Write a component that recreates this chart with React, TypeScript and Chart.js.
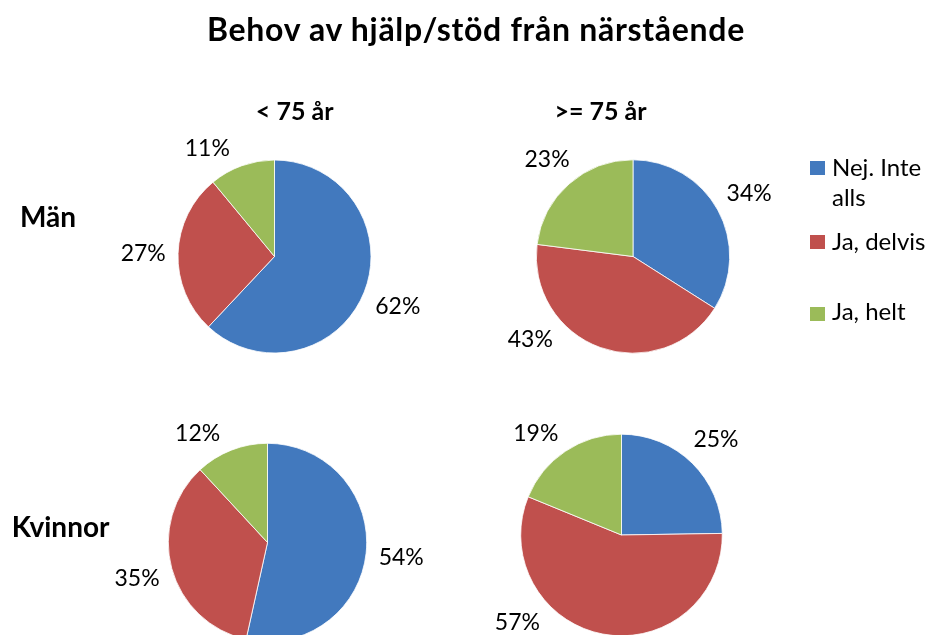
import React, { useEffect, useRef } from "react";
import { Chart, registerables } from "chart.js";
Chart.register(...registerables);

const chartTitle = "Behov av hjälp/stöd från närstående";
const ageGroups = ["< 75 år", ">= 75 år"];
const sexGroups = ["Män", "Kvinnor"];
const answers = ["Nej. Inte alls", "Ja, delvis", "Ja, helt"];
const manUnder75 = [62, 27, 11];
const man75plus = [34, 43, 23];
const kvinnaUnder75 = [54, 35, 12];
const kvinna75plus = [25, 57, 19];

const COLORS = ["#4279BE", "#C0504D", "#9BBB59"];
const W = 929;
const H = 635;
const CH = 700;
const FONT = "Lato, 'Open Sans', sans-serif";
const LABEL_SIZE = 23;

const PIES = [
  { data: manUnder75, cx: 274.5, cy: 256.5, r: 96.5, yMin: 148, yMax: 339 },
  { data: man75plus, cx: 633, cy: 256.5, r: 96.7, yMin: 150, yMax: 339 },
  { data: kvinnaUnder75, cx: 267.5, cy: 542.5, r: 99.2, yMin: 432, yMax: 622 },
  { data: kvinna75plus, cx: 621.5, cy: 535, r: 100.8, yMin: 432, yMax: 622 },
];

function labelPlugin(yMin: number, yMax: number) {
  return {
    id: "outLabels",
    afterDatasetsDraw(chart: any) {
      const ctx = chart.ctx as CanvasRenderingContext2D;
      const meta = chart.getDatasetMeta(0);
      const ds = chart.data.datasets[0].data as number[];
      ctx.save();
      ctx.font = `${LABEL_SIZE}px ${FONT}`;
      ctx.fillStyle = "#000";
      ctx.textAlign = "center";
      ctx.textBaseline = "alphabetic";
      const gap = 12;
      const hh = 8.5;
      meta.data.forEach((arc: any, i: number) => {
        const { x, y, startAngle, endAngle, outerRadius } = arc.getProps(
          ["x", "y", "startAngle", "endAngle", "outerRadius"],
          true
        );
        const text = ds[i] + "%";
        const hw = ctx.measureText(text).width / 2;
        let th = ((((startAngle + endAngle) / 2) * 180) / Math.PI + 90 + 720) % 360;
        const pos = (t: number) => {
          const a = ((t - 90) * Math.PI) / 180;
          const ux = Math.cos(a);
          const uy = Math.sin(a);
          const d = outerRadius + gap + hw * Math.abs(ux) + hh * Math.abs(uy);
          return [x + d * ux, y + d * uy];
        };
        let p = pos(th);
        for (let k = 0; k < 200 && (p[1] < yMin || p[1] > yMax); k++) {
          const left = th > 180;
          if (p[1] < yMin) th += left ? -0.5 : 0.5;
          else th += left ? 0.5 : -0.5;
          p = pos(th);
        }
        ctx.fillText(text, p[0], p[1] + 0.36 * LABEL_SIZE);
      });
      ctx.restore();
    },
  };
}

function PieCanvas({ cfg }: { cfg: (typeof PIES)[number] }) {
  const ref = useRef<HTMLCanvasElement | null>(null);
  useEffect(() => {
    if (!ref.current) return;
    const { cx, cy, r } = cfg;
    const chart = new Chart(ref.current, {
      type: "pie",
      data: {
        labels: answers,
        datasets: [
          {
            data: cfg.data,
            backgroundColor: COLORS,
            borderColor: "#ffffff",
            borderWidth: 0.8,
          },
        ],
      },
      options: {
        responsive: false,
        maintainAspectRatio: false,
        animation: false,
        devicePixelRatio: 1,
        radius: r,
        layout: {
          padding: {
            left: cx - r,
            top: cy - r,
            right: W - cx - r,
            bottom: CH - cy - r,
          },
        },
        plugins: {
          legend: { display: false },
          tooltip: { enabled: false },
          title: { display: false },
        },
      } as any,
      plugins: [labelPlugin(cfg.yMin, cfg.yMax)],
    });
    return () => chart.destroy();
  }, [cfg]);
  return (
    <canvas
      ref={ref}
      width={W}
      height={CH}
      style={{ position: "absolute", left: 0, top: 0, width: W, height: CH }}
    />
  );
}

function Txt(props: {
  text: string;
  x: number;
  baseline: number;
  size: number;
  bold?: boolean;
  center?: boolean;
  width?: number;
  lineHeight?: number;
  spacing?: number;
}) {
  const lh = props.lineHeight ?? props.size;
  const top = props.baseline - ((lh - props.size * 1.2) / 2 + props.size * 0.987);
  return (
    <div
      style={{
        position: "absolute",
        left: props.x,
        top,
        fontFamily: FONT,
        fontSize: props.size,
        fontWeight: props.bold ? 700 : 400,
        lineHeight: lh + "px",
        letterSpacing: props.spacing ? props.spacing + "px" : undefined,
        whiteSpace: props.width ? "normal" : "nowrap",
        width: props.width,
        transform: props.center ? "translateX(-50%)" : undefined,
        color: "#000",
      }}
    >
      {props.text}
    </div>
  );
}

const LEGEND_BASELINES = [176.7, 250, 320];
const LEGEND_SQUARES = [161, 235, 307];

export default function App() {
  return (
    <div
      style={{
        position: "absolute",
        left: 0,
        top: 0,
        width: W,
        height: H,
        overflow: "hidden",
        background: "#fff",
      }}
    >
      {PIES.map((p, i) => (
        <PieCanvas key={i} cfg={p} />
      ))}
      <Txt text={chartTitle} x={476} baseline={41} size={32} bold center spacing={0.7} />
      <Txt text={ageGroups[0]} x={294.7} baseline={120} size={25} bold center />
      <Txt text={ageGroups[1]} x={600.5} baseline={120} size={25} bold center />
      <Txt text={sexGroups[0]} x={20} baseline={227.3} size={28} bold />
      <Txt text={sexGroups[1]} x={11.7} baseline={536.7} size={28} bold />
      {answers.map((a, i) => (
        <React.Fragment key={a}>
          <div
            style={{
              position: "absolute",
              left: 810,
              top: LEGEND_SQUARES[i],
              width: 15,
              height: 14,
              background: COLORS[i],
            }}
          />
          <Txt text={a} x={832} baseline={LEGEND_BASELINES[i]} size={24} width={112} lineHeight={30} />
        </React.Fragment>
      ))}
    </div>
  );
}
